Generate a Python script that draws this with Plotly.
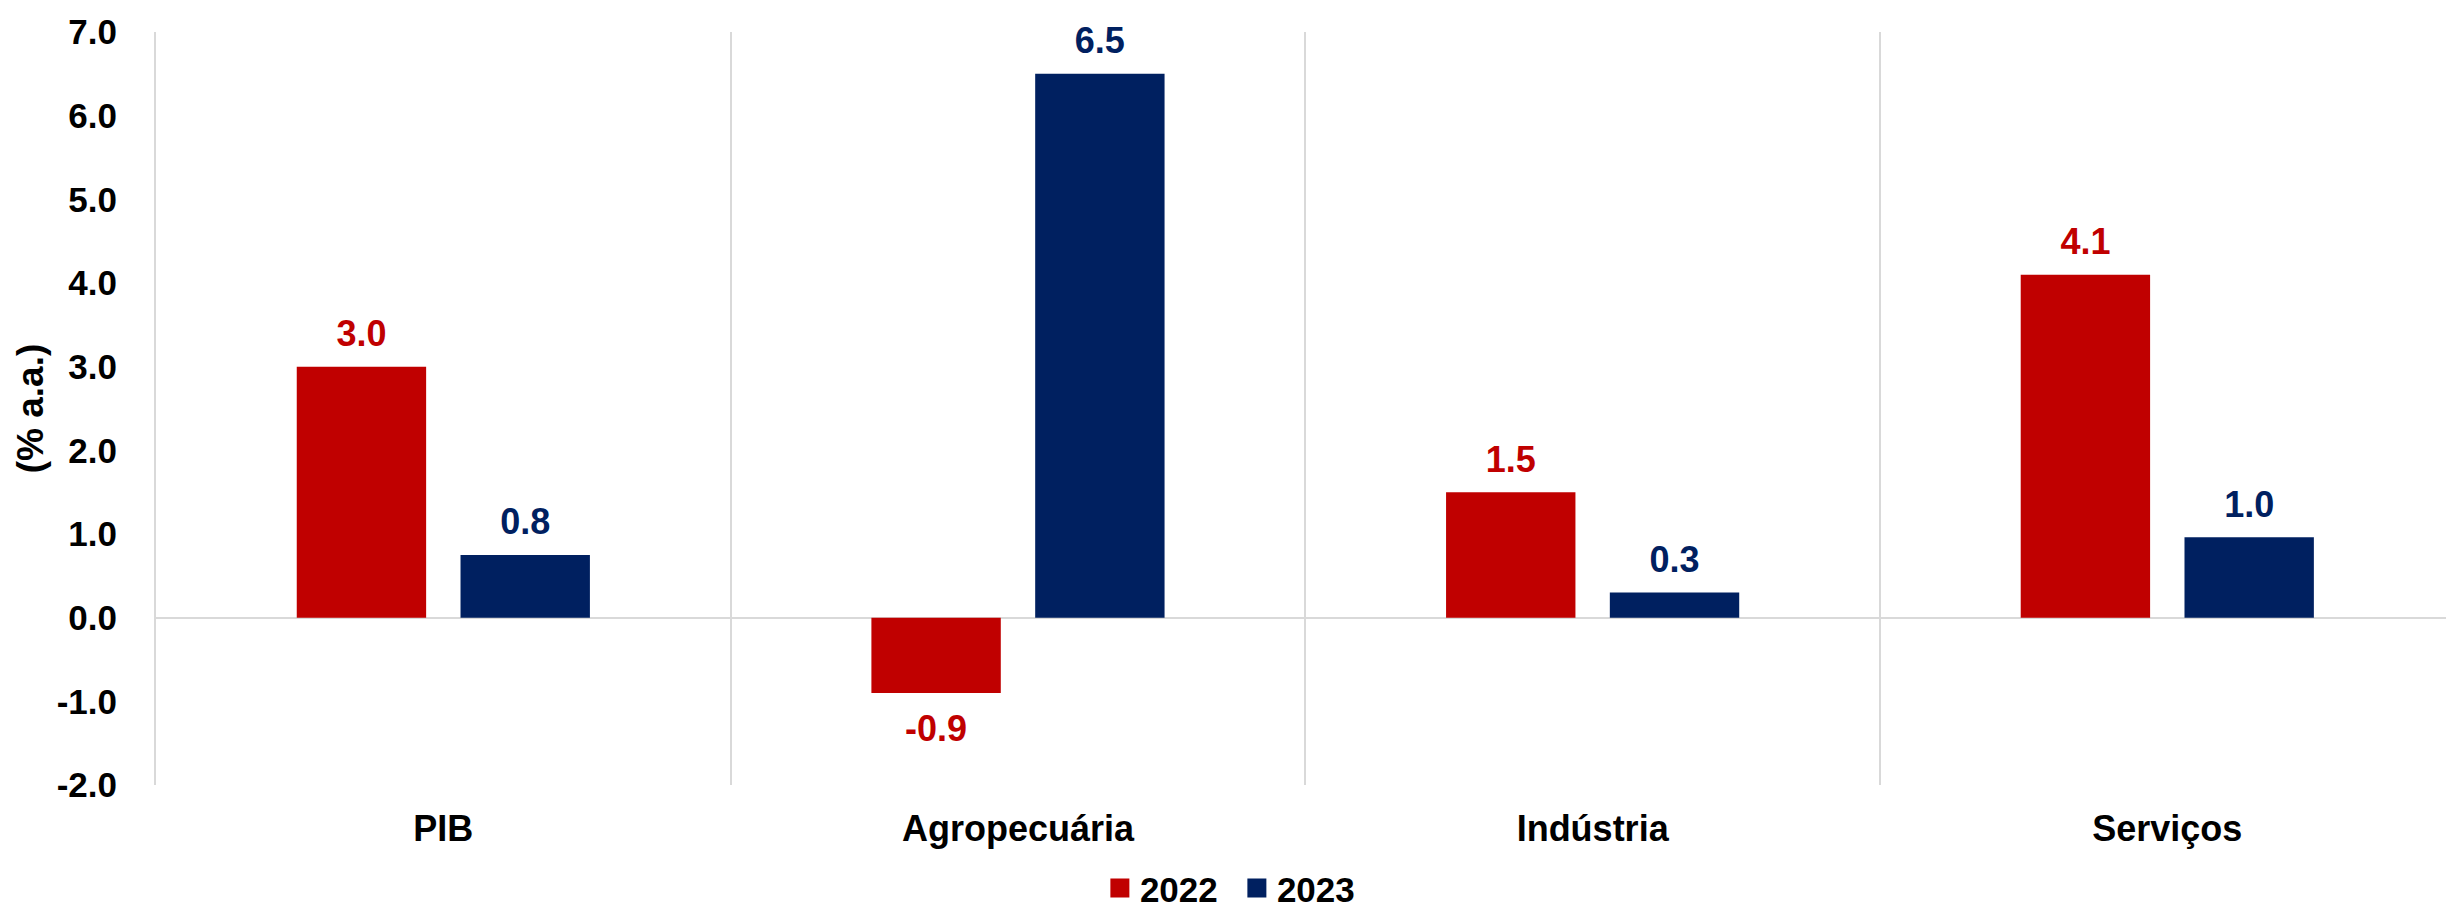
import plotly.graph_objects as go

categories = ["PIB", "Agropecuária", "Indústria", "Serviços"]
series_names = ["2022", "2023"]
values_2022 = [3.0, -0.9, 1.5, 4.1]
values_2023 = [0.75, 6.5, 0.3, 0.96]
colors = ["#C00000", "#002060"]
y_ticks = [-2, -1, 0, 1, 2, 3, 4, 5, 6, 7]
y_ticktext = [f"{v:.1f}" for v in y_ticks]

FONT = "Arial, 'Liberation Sans', sans-serif"
BARGAP = 0.43

fig = go.Figure()
for name, vals, col, grp in zip(series_names, [values_2022, values_2023], colors, ["a", "b"]):
    fig.add_trace(go.Bar(
        x=categories, y=vals, name=name, marker=dict(color=col, line=dict(width=0)),
        offsetgroup=grp, showlegend=False, hoverinfo="skip",
    ))
for name, vals, col, grp in zip(series_names, [values_2022, values_2023], colors, ["a", "b"]):
    fig.add_trace(go.Scatter(
        x=categories, y=vals, mode="markers+text", offsetgroup=grp,
        text=[f"{v:.1f}" for v in vals],
        textposition=["top center" if v >= 0 else "bottom center" for v in vals],
        textfont=dict(family=FONT, size=36, color=col, weight="bold"),
        marker=dict(size=[17 if v >= 0 else 32 for v in vals], color="rgba(0,0,0,0)",
                    opacity=0, line=dict(width=0, color="rgba(0,0,0,0)")),
        showlegend=False, hoverinfo="skip", cliponaxis=False,
    ))
for name, col in zip(series_names, colors):
    fig.add_trace(go.Scatter(
        x=[None], y=[None], mode="markers", name=name,
        marker=dict(symbol="square", size=16, color=col, line=dict(color=col, width=3)),
    ))

fig.update_layout(
    width=2446, height=910,
    margin=dict(l=156, r=0, t=32, b=125),
    plot_bgcolor="white", paper_bgcolor="white",
    barmode="group", bargap=BARGAP, bargroupgap=0.21,
    scattermode="group", scattergap=BARGAP,
    font=dict(family=FONT, size=35, color="black"),
    legend=dict(
        orientation="h", x=0.472, xanchor="center",
        yref="container", y=0.024, yanchor="middle",
        entrywidth=92, entrywidthmode="pixels",
        font=dict(family=FONT, size=35, color="black", weight="bold"),
        bgcolor="rgba(0,0,0,0)",
    ),
    xaxis=dict(
        type="category", range=[-0.5, 3.485], tickson="boundaries",
        showgrid=True, gridcolor="#d9d9d9", gridwidth=2,
        ticks="", showline=False, zeroline=False, automargin=False,
        tickfont=dict(family=FONT, size=36, color="black", weight="bold"),
        ticklabelstandoff=19,
    ),
    yaxis=dict(
        range=[-2, 7], tickvals=y_ticks, ticktext=y_ticktext,
        showgrid=False, zeroline=True, zerolinecolor="#d9d9d9", zerolinewidth=2,
        showline=True, linecolor="#d9d9d9", linewidth=2, ticks="", automargin=False,
        tickfont=dict(family=FONT, size=35, color="black", weight="bold"),
        ticklabelstandoff=30,
        title=dict(text="(% a.a.)", font=dict(family=FONT, size=37, color="black", weight="bold"), standoff=2),
    ),
)

fig.write_html("out.html")
